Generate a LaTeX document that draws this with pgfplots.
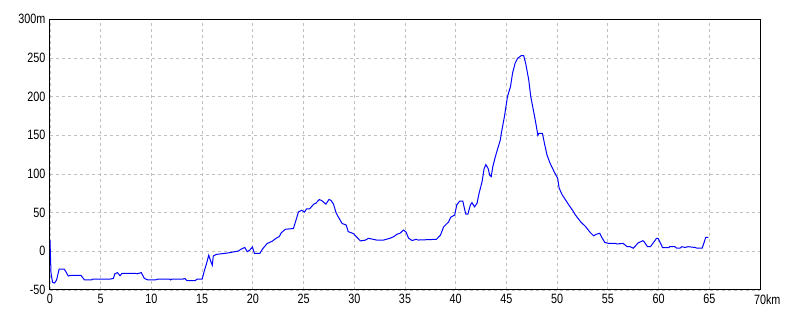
\documentclass[border=0pt]{standalone}
\usepackage{fontspec}
\setmainfont[FakeStretch=0.8]{Liberation Sans}
\usepackage{pgfplots}
\pgfplotsset{compat=1.18}
\begin{document}
\begin{tikzpicture}[x=1pt,y=1pt]
\path[use as bounding box] (-50,-30) rectangle (750,290);
\begin{axis}[
  scale only axis,
  width=710pt, height=270.7pt,
  xmin=0, xmax=70, ymin=-50, ymax=300,
  xtick={0,5,...,70},
  xticklabels={0,5,10,15,20,25,30,35,40,45,50,55,60,65,70\rlap{km}},
  ytick={-50,0,50,100,150,200,250,300},
  yticklabels={-50,0,50,100,150,200,250,300m},
  major tick length=0pt,
  grid=major,
  major grid style={gray!50, dash pattern=on 3pt off 3pt, line width=0.8pt},
  axis line style={black, line width=1pt},
  tick label style={font=\fontsize{13.5}{15}\selectfont, text=black},
  yticklabel style={anchor=east, xshift=-1pt},
  xticklabel style={anchor=north, yshift=-1pt},
]
\addplot[blue, line width=1pt] coordinates {
(0,14) (0.05,-8) (0.1,-28) (0.25,-40) (0.45,-41) (0.65,-37) (0.9,-23) (1.4,-23) (1.6,-27) (1.8,-32) (2.0,-31) (3.05,-31) (3.4,-37) (4.1,-37) (4.2,-36) (5.9,-36) (6.25,-35) (6.4,-29) (6.65,-27.5) (6.9,-31.5) (7.1,-28.5) (8.4,-28.5) (8.6,-29) (9.0,-27.5) (9.3,-35) (9.65,-37) (10.4,-37) (10.6,-36) (11.8,-36) (11.9,-37) (12.0,-36) (13.1,-36) (13.3,-35) (13.5,-38) (14.3,-38) (14.5,-36) (15.0,-36) (15.2,-26) (15.45,-15) (15.65,-5) (15.85,-13) (16.0,-18) (16.1,-6) (16.4,-4) (17.6,-2) (18.6,0.5) (18.8,2.5) (19.2,5) (19.45,-0.5) (19.7,1.7) (19.95,5.5) (20.15,-2.5) (20.7,-2.5) (20.95,3) (21.4,10) (21.9,13) (22.3,17) (22.6,19) (22.8,24) (23.2,28.5) (24.0,29.5) (24.2,38) (24.5,51) (24.8,53) (25.1,51) (25.3,55) (25.6,55) (26.0,61) (26.2,62) (26.55,67) (26.8,65.5) (27.2,61) (27.5,67) (27.7,66) (27.95,61) (28.2,50) (28.4,45) (28.8,36) (29.2,34) (29.4,25.5) (29.9,23) (30.6,13.5) (31.1,14.5) (31.4,16.8) (32.2,14.6) (32.9,14.6) (33.5,16.8) (33.9,19) (34.2,22) (34.5,23.3) (34.85,27.5) (35.1,25) (35.35,17) (35.7,14) (36.1,15.5) (36.3,14.6) (38.1,15.5) (38.5,21) (38.8,31.5) (39.3,38) (39.5,44) (39.9,47) (40.1,60) (40.4,65) (40.7,65) (40.9,53) (41.0,48) (41.2,48) (41.45,60) (41.6,63) (41.85,57.5) (42.1,62) (42.3,75) (42.6,90) (42.8,107) (42.97,112) (43.2,107) (43.35,98.5) (43.5,96.5) (43.65,109) (43.9,122) (44.1,131) (44.4,144) (44.5,153) (44.8,174) (45.1,200) (45.4,213) (45.6,230) (45.85,243) (46.1,249.5) (46.45,253) (46.7,253) (46.9,243) (47.2,221.5) (47.4,200) (47.65,183) (47.9,165.5) (48.1,150) (48.2,152.5) (48.55,152.5) (48.75,139.5) (49.0,124.5) (49.3,114) (49.7,103) (50.05,94.5) (50.2,81.5) (50.5,73) (50.85,66) (51.2,59) (51.5,53.5) (51.8,47) (52.3,38.5) (52.8,32) (53.25,24.5) (53.6,20) (53.85,22) (54.2,23.3) (54.4,18) (54.7,11.5) (55.05,10.3) (55.7,10.3) (55.9,9.5) (56.5,10.3) (56.9,6) (57.2,6) (57.5,4) (58.0,11) (58.45,13.7) (58.6,12) (58.9,6) (59.2,6) (59.8,16.8) (59.95,16.8) (60.4,4.7) (61.0,4.7) (61.1,6) (61.6,6) (61.8,4) (62.1,4) (62.3,6) (62.6,5) (62.9,6) (63.6,5) (63.8,4) (64.3,4) (64.4,8) (64.65,18) (64.9,18)
};
\end{axis}
\end{tikzpicture}
\end{document}
